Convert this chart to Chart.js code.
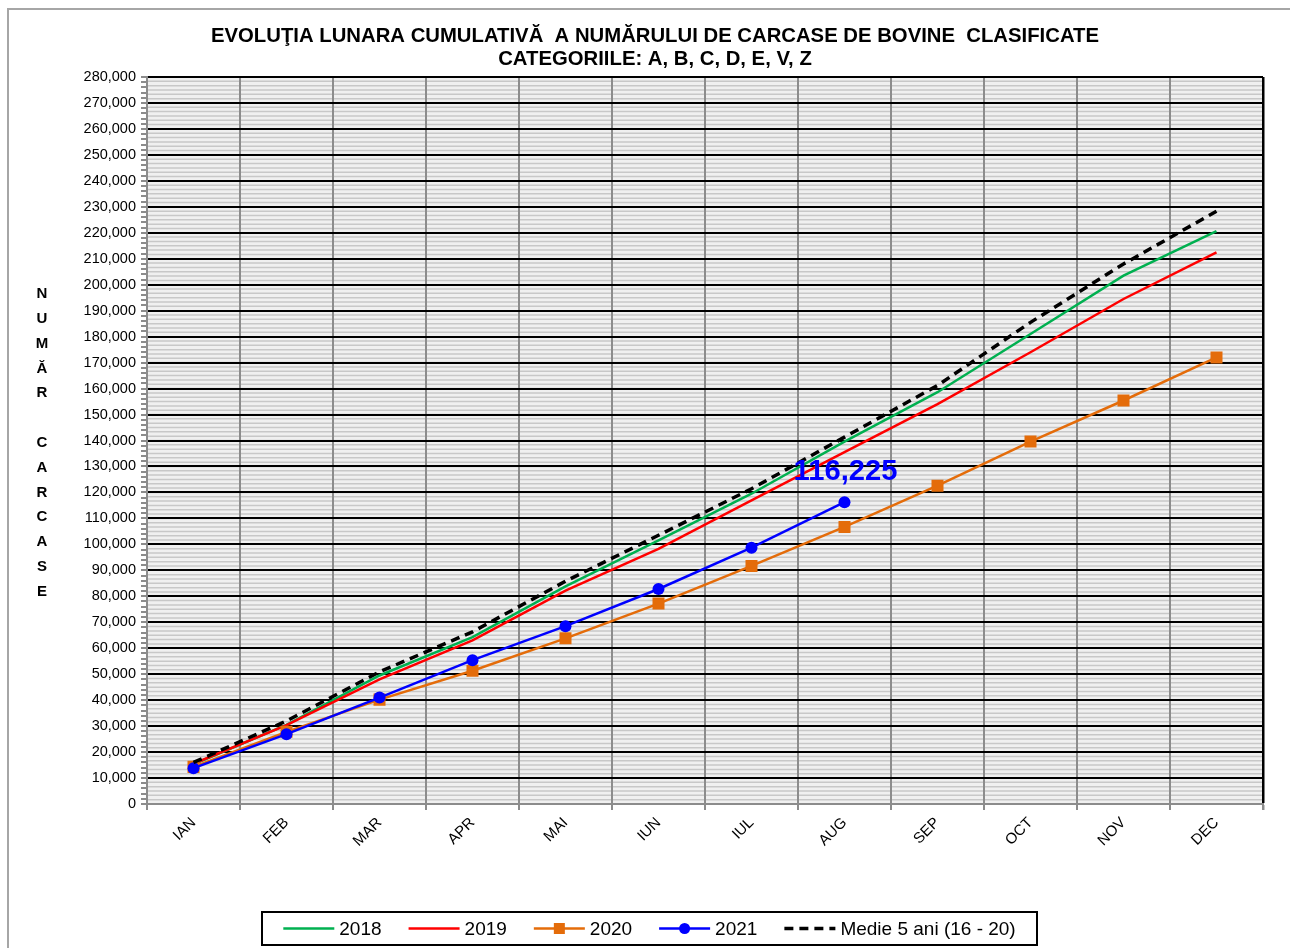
<!DOCTYPE html>
<html>
<head>
<meta charset="utf-8">
<script src="https://cdn.jsdelivr.net/npm/chart.js@4.4.1/dist/chart.umd.min.js"></script>
<style>
body{margin:0;background:#fff}
canvas{display:block}
</style>
</head>
<body>
<canvas id="chart" width="1290" height="948"></canvas>
<script>

/* DATA */

const months = ["IAN","FEB","MAR","APR","MAI","IUN","IUL","AUG","SEP","OCT","NOV","DEC"]

const y2018 = [15300,30500,49500,64300,83800,101500,119500,139600,158600,181000,203500,220600]
const y2019 = [15500,30400,48000,63000,82200,98300,116900,135500,154000,174000,194500,212500]
const y2020 = [14300,27800,40200,51300,63800,77200,91700,106700,122600,139600,155400,172000]
const y2021 = [13800,26900,41000,55400,68500,82800,98700,116225]
const medie = [16000,32000,50900,66300,85800,103500,121400,141300,161200,185500,208000,228300]

const titleLines = [
"EVOLUŢIA LUNARA CUMULATIVĂ  A NUMĂRULUI DE CARCASE DE BOVINE  CLASIFICATE",
"CATEGORIILE: A, B, C, D, E, V, Z"
]

const axisLetters = ["N","U","M","Ă","R","","C","A","R","C","A","S","E"]

const family = '"Liberation Sans", Arial'

/* PLUGINS */

// text squeezed to the width it has in the picture
function squeezed(ctx, text, x, y, font, width){
ctx.font = font
const w = ctx.measureText(text).width
ctx.save()
ctx.translate(x,y)
ctx.scale(width/w,1)
ctx.fillText(text,0,0)
ctx.restore()
return width/w
}

const decor = {
id:"decor",
beforeDraw(chart){
const ctx = chart.ctx
const a = chart.chartArea
const y = chart.scales.y
ctx.save()
ctx.fillStyle = "#fff"
ctx.fillRect(0,0,chart.width,chart.height)

// outer frame
ctx.strokeStyle = "#a6a6a6"
ctx.lineWidth = 2
ctx.beginPath()
ctx.moveTo(8,chart.height)
ctx.lineTo(8,9)
ctx.lineTo(chart.width,9)
ctx.stroke()

// striped plot fill
ctx.fillStyle = "#f0f0f0"
ctx.fillRect(a.left,a.top,a.right-a.left,a.bottom-a.top)
const step = (y.getPixelForValue(0)-y.getPixelForValue(10000))/6
ctx.strokeStyle = "#c8c8c8"
ctx.lineWidth = 1.5
for(let p=a.bottom; p>a.top; p-=step){
ctx.beginPath()
ctx.moveTo(a.left,p)
ctx.lineTo(a.right,p)
ctx.stroke()
}
ctx.restore()
},
afterDraw(chart){
const ctx = chart.ctx
ctx.save()

// title
ctx.fillStyle = "#000"
ctx.textAlign = "center"
ctx.textBaseline = "middle"
const k = squeezed(ctx,titleLines[0],655,37,"bold 19.5px "+family,888)
ctx.font = "bold 19.5px "+family
squeezed(ctx,titleLines[1],655,60,ctx.font,ctx.measureText(titleLines[1]).width*k)

// vertical axis title, one letter under the other
ctx.font = "bold 15px "+family
axisLetters.forEach((l,i)=>{
ctx.fillText(l,42,294+i*24.8)
})

// value of the last 2021 point
const meta = chart.getDatasetMeta(3)
const last = meta.data[meta.data.length-1]
ctx.fillStyle = "#0000FF"
squeezed(ctx,y2021[y2021.length-1].toLocaleString("en-US"),last.x+1,last.y-30,"bold 30px "+family,104)

// legend
ctx.strokeStyle = "#000"
ctx.lineWidth = 2
ctx.strokeRect(262,912,775,33)
ctx.font = "19px "+family
ctx.textAlign = "left"
const items = chart.data.datasets
const widths = items.map(d=>51+5+ctx.measureText(d.label).width)
const total = widths.reduce((s,w)=>s+w,0)+27*(items.length-1)
let x = 649.5-total/2
const ly = 928.5
items.forEach((d,i)=>{
ctx.strokeStyle = d.borderColor
ctx.lineWidth = d.borderWidth
ctx.setLineDash(d.borderDash || [])
ctx.beginPath()
ctx.moveTo(x,ly)
ctx.lineTo(x+51,ly)
ctx.stroke()
ctx.setLineDash([])
if(d.pointRadius){
ctx.fillStyle = d.pointBackgroundColor
if(d.pointStyle==="rect"){
ctx.fillRect(x+25.5-5.5,ly-5.5,11,11)
}else{
ctx.beginPath()
ctx.arc(x+25.5,ly,5.5,0,Math.PI*2)
ctx.fill()
}
}
ctx.fillStyle = "#000"
ctx.fillText(d.label,x+56,ly+1)
x += widths[i]+27
})
ctx.restore()
}
}

/* CHART */

new Chart(document.getElementById("chart"),{

type:"line",

data:{
labels:months,
datasets:[
{label:"2018",data:y2018,borderColor:"#00B050",borderWidth:2.5,pointRadius:0,order:4},
{label:"2019",data:y2019,borderColor:"#FF0000",borderWidth:2.5,pointRadius:0,order:3},
{label:"2020",data:y2020,borderColor:"#E46C0A",backgroundColor:"#E46C0A",pointBackgroundColor:"#E46C0A",pointBorderWidth:0,borderWidth:2.5,pointStyle:"rect",pointRadius:8.5,order:2},
{label:"2021",data:y2021,borderColor:"#0000FF",backgroundColor:"#0000FF",pointBackgroundColor:"#0000FF",pointBorderWidth:0,borderWidth:2.5,pointStyle:"circle",pointRadius:6,order:1},
{label:"Medie 5 ani (16 - 20)",data:medie,borderColor:"#000",borderWidth:3.5,borderDash:[9,6],pointRadius:0,order:0}
]
},

options:{
responsive:false,
animation:false,
layout:{padding:{left:0,top:77,right:27,bottom:948-804-60}},
plugins:{legend:{display:false},tooltip:{enabled:false}},
scales:{
x:{
offset:true,
grid:{
offset:true,
color:ctx=>ctx.tick ? "#8c8c8c" : "#000",
lineWidth:ctx=>ctx.tick ? 2 : 2.5,
tickLength:6,
tickColor:"#8c8c8c"
},
border:{color:"#8c8c8c",width:2},
ticks:{minRotation:45,maxRotation:45,color:"#000",padding:4,font:{family:family,size:15}},
afterFit:s=>{s.height=60}
},
y:{
min:0,
max:280000,
grid:{
color:ctx=>{
const v = ctx.tick ? ctx.tick.value : 0
if(v===0) return "#8c8c8c"
return v%10000===0 ? "#000" : "rgba(0,0,0,0)"
},
lineWidth:2,
tickLength:6,
tickColor:"#8c8c8c"
},
border:{color:"#8c8c8c",width:2},
ticks:{
stepSize:2000,
autoSkip:false,
color:"#000",
padding:5,
font:{family:family,size:14.5},
callback:v=>v%10000===0 ? v.toLocaleString("en-US") : ""
},
afterFit:s=>{s.width=147}
}
}
},

plugins:[decor]

})

</script>
</body>
</html>
